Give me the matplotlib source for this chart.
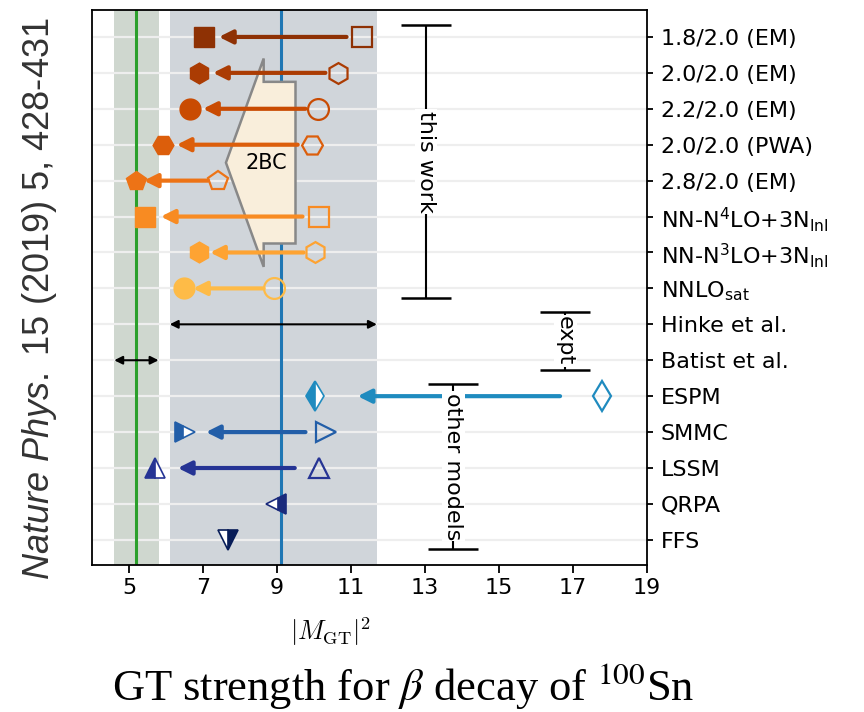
import numpy as np
import matplotlib.pyplot as plt

plt.rcParams['mathtext.rm'] = 'Liberation Sans'
plt.rcParams['mathtext.it'] = 'Liberation Sans:italic'

# --------------------------
# Datos
# --------------------------
labels = ['1.8/2.0 (EM)', '2.0/2.0 (EM)', '2.2/2.0 (EM)', '2.0/2.0 (PWA)',
          '2.8/2.0 (EM)', r'NN-N$^4$LO+3N$_{\rm lnl}$', r'NN-N$^3$LO+3N$_{\rm lnl}$',
          r'NNLO$_{\rm sat}$', 'Hinke et al.', 'Batist et al.',
          'ESPM', 'SMMC', 'LSSM', 'QRPA', 'FFS']

# this work (8 filas): con 2BC (lleno) y sin 2BC (vacio)
tw_con_2bc = [7.02, 6.89, 6.65, 5.92, 5.19, 5.43, 6.89, 6.48]
tw_sin_2bc = [11.29, 10.66, 10.10, 9.94, 7.40, 10.13, 10.04, 8.91]
tw_flecha_ini = [10.88, 10.31, 9.77, 9.56, 7.13, 9.69, 9.72, 8.64]
tw_flecha_fin = [7.43, 7.27, 7.00, 6.29, 5.40, 5.86, 7.19, 6.73]
tw_marcadores = ['s', 'h', 'o', 'H', 'p', 's', 'h', 'o']

# otros modelos (ESPM, SMMC, LSSM, QRPA, FFS)
om_con = [10.02, 6.51, 5.70, 8.98, 7.67]
om_sin = [17.79, 10.33, 10.13, None, None]
om_flecha_ini = [16.65, 9.77, 9.48, None, None]
om_flecha_fin = [11.18, 7.08, 6.32, None, None]
om_marcadores = ['d', '>', '^', '<', 'v']
om_relleno = ['left', 'left', 'left', 'right', 'right']
om_colores = ['#1f8bbf', '#225ea8', '#253494', '#1a2a7c', '#081d58']

# experimentos
hinke = 9.1
hinke_rango = (6.1, 11.7)
batist = 5.2
batist_rango = (4.6, 5.8)

tw_colores = [plt.cm.YlOrBr(t) for t in np.linspace(0.9, 0.4, 8)]

# --------------------------
# Figura
# --------------------------
fig = plt.figure(figsize=(8.64, 7.12), dpi=100)
ax = fig.add_axes([92/864, 1-565/712, (647-92)/864, (565-10)/712])

ax.axvspan(*batist_rango, color='#cfd7cf', lw=0, zorder=0.5)
ax.axvspan(*hinke_rango, color='#d0d5da', lw=0, zorder=0.5)
for i in range(len(labels)):
    ax.axhline(i, color='#eeeeee', lw=1.6, zorder=0.8)
ax.axvline(batist, color='#2ca02c', lw=2.2, zorder=1)
ax.axvline(hinke, color='#1f77b4', lw=2.2, zorder=1)

# flecha 2BC
ax.arrow(9.5, 3.5, -1.88, 0, width=4.5, head_width=5.8, head_length=1.02,
         length_includes_head=True, fc='#f9eedb', ec='#888888', lw=1.8, zorder=2)
ax.text(8.7, 3.5, '2BC', fontsize=15, ha='center', va='center', zorder=5)

# this work
for i in range(8):
    c = tw_colores[i]
    ax.annotate('', xy=(tw_flecha_fin[i], i), xytext=(tw_flecha_ini[i], i),
                arrowprops=dict(arrowstyle='-|>,head_length=0.5,head_width=0.25',
                                color=c, lw=3, shrinkA=0, shrinkB=0,
                                mutation_scale=16), zorder=3)
    ax.plot(tw_con_2bc[i], i, marker=tw_marcadores[i], ms=15, color=c,
            mec=c, mew=1, zorder=4)
    ax.plot(tw_sin_2bc[i], i, marker=tw_marcadores[i], ms=15, mfc='none',
            mec=c, mew=1.6, zorder=4)

# otros modelos
for k in range(5):
    i = 10 + k
    c = om_colores[k]
    if om_sin[k] is not None:
        ax.annotate('', xy=(om_flecha_fin[k], i), xytext=(om_flecha_ini[k], i),
                    arrowprops=dict(arrowstyle='-|>,head_length=0.5,head_width=0.25',
                                    color=c, lw=3, shrinkA=0, shrinkB=0,
                                    mutation_scale=16), zorder=3)
        ax.plot(om_sin[k], i, marker=om_marcadores[k], ms=15, mfc='none',
                mec=c, mew=1.6, zorder=4)
    ax.plot(om_con[k], i, marker=om_marcadores[k], ms=15, color=c,
            fillstyle=om_relleno[k], markerfacecoloralt='white', mec=c,
            mew=1.2, zorder=4)

# experimentos
for y, (a, b) in [(8, hinke_rango), (9, batist_rango)]:
    ax.annotate('', xy=(a, y), xytext=(b, y),
                arrowprops=dict(arrowstyle='<|-|>', color='k', lw=1.5,
                                shrinkA=0, shrinkB=0, mutation_scale=12),
                zorder=3)

# corchetes
for x, y0, y1, txt in [(13.03, -0.33, 7.27, 'this work'),
                       (16.79, 7.65, 9.27, 'expt'),
                       (13.77, 9.66, 14.25, 'other models')]:
    ax.errorbar(x, (y0+y1)/2, yerr=(y1-y0)/2, color='k', lw=1.5,
                capsize=18, capthick=1.8, zorder=2.5)
    ax.text(x, (y0+y1)/2, txt, rotation=270, fontsize=16, ha='center',
            va='center', zorder=5,
            bbox=dict(fc='white', ec='none', pad=1))

ax.set_xlim(4, 19)
ax.set_ylim(14.7, -0.75)
ax.set_xticks([5, 7, 9, 11, 13, 15, 17, 19])
ax.set_yticks(range(len(labels)))
ax.set_yticklabels(labels)
ax.yaxis.tick_right()
ax.tick_params(axis='x', labelsize=16, length=6, width=1.3)
ax.tick_params(axis='y', labelsize=16, length=4, width=1.3, pad=6)
for s in ax.spines.values():
    s.set_linewidth(1.3)

fig.text(331/864, 1-640/712, r'$|M_{\rm GT}|^2$', fontsize=19,
         math_fontfamily='cm', ha='center', va='baseline')
fig.text(40/864, 1-299/712, r'$\mathit{Nature\ Phys.}$ 15 (2019) 5, 428-431',
         family='Liberation Sans', math_fontfamily='custom', fontsize=26,
         color='#333333', rotation=90, ha='center', va='center')
fig.text(403/864, 1-700/712, r'GT strength for $\beta$ decay of $^{100}$Sn',
         family='Liberation Serif', math_fontfamily='stix', fontsize=32,
         ha='center', va='baseline')

fig.savefig('out.png', dpi=100)
